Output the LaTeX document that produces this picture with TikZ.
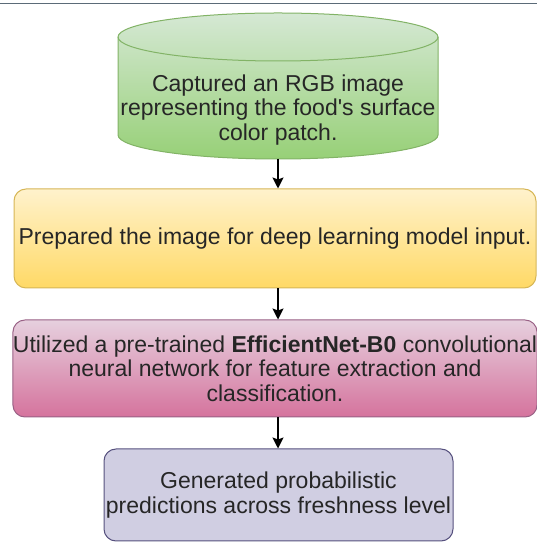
\documentclass[tikz,border=0pt]{standalone}
\usepackage{fontspec}
\newfontfamily\boxfont{Liberation Sans}
\usetikzlibrary{arrows.meta}

\definecolor{cylA}{HTML}{D5E8D4}
\definecolor{cylB}{HTML}{97D077}
\definecolor{cylLine}{HTML}{82B366}
\definecolor{prepA}{HTML}{FFF2CC}
\definecolor{prepB}{HTML}{FFD966}
\definecolor{prepLine}{HTML}{D6B656}
\definecolor{netA}{HTML}{E6D0DE}
\definecolor{netB}{HTML}{D5739D}
\definecolor{netLine}{HTML}{996185}
\definecolor{outFill}{HTML}{D0CEE2}
\definecolor{outLine}{HTML}{56517E}
\definecolor{rule}{HTML}{5B6B78}

\begin{document}
\begin{tikzpicture}[x=1pt,y=1pt]

        \useasboundingbox (0,0) rectangle (537,543);
        \draw[rule, line width=1.5pt] (0,539.5) -- (537,539.5);

        % cylinder
        \path[draw=cylLine, line width=1pt, top color=cylA, bottom color=cylB]
          (118,506) -- (118,408) arc[start angle=180, end angle=360, x radius=160, y radius=24]
          -- (438,506) arc[start angle=0, end angle=180, x radius=160, y radius=24] -- cycle;
        \draw[cylLine, line width=1pt]
          (118,506) arc[start angle=180, end angle=360, x radius=160, y radius=24];

        \begin{scope}[every node/.style={align=center, text=black!85,
            font=\boxfont\fontsize{23}{24.5}\selectfont}]
          \node (1) at (278,433) {Captured an RGB image\\representing the food's surface\\color patch.};
          \coordinate (1b) at (278,384);
        \end{scope}

        \begin{scope}[every node/.style={draw, rounded corners=12pt, line width=1pt,
            align=center, text=black!85, inner sep=0pt,
            font=\boxfont\fontsize{23}{24.5}\selectfont}]
          \node[top color=prepA, bottom color=prepB, draw=prepLine,
            minimum width=522pt, minimum height=99pt] (2) at (275,304.5)
            {Prepared the image for deep learning model input.};
          \node[top color=netA, bottom color=netB, draw=netLine,
            minimum width=522pt, minimum height=97pt] (3) at (275,174.5)
            {Utilized a pre-trained \textbf{EfficientNet-B0} convolutional\\neural network for feature extraction and\\classification.};
          \node[fill=outFill, draw=outLine,
            minimum width=349pt, minimum height=92pt] (4) at (278.5,48)
            {Generated probabilistic\\predictions across freshness level};
        \end{scope}

        \begin{scope}[every edge/.style={draw, line width=1.5pt,
            -{Stealth[length=11pt, width=11pt, inset=2pt]}}]
          \path (1b) edge (1b |- 2.north);
          \path (1b |- 2.south) edge (1b |- 3.north);
          \path (1b |- 3.south) edge (1b |- 4.north);
        \end{scope}

      \end{tikzpicture}
\end{document}
